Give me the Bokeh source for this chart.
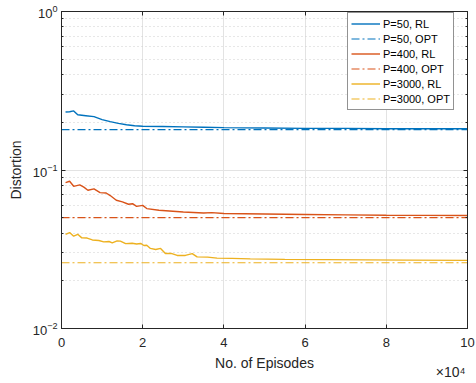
from bokeh.plotting import figure
from bokeh.models import (LinearAxis, LogAxis, FixedTicker, CustomJSTickFormatter,
                          LogTickFormatter, Title, Legend, LegendItem, Range1d)
from bokeh.embed import file_html
from bokeh.resources import INLINE

# ---------------- data ----------------
x_b = [1000, 2000, 3000, 4000, 6000, 8000, 10000, 12000, 14000, 16000, 18000, 20000,
       25000, 30000, 35000, 40000, 50000, 60000, 70000, 80000, 90000, 100000]
rl_50 = [0.232, 0.233, 0.236, 0.223, 0.220, 0.217, 0.208, 0.202, 0.197, 0.193, 0.190, 0.189,
         0.188, 0.187, 0.186, 0.185, 0.184, 0.183, 0.183, 0.182, 0.182, 0.182]

x_r = [1000, 2000, 3000, 4500, 5500, 6500, 8000, 9500, 11000, 12000, 13500, 15000, 16500,
       17500, 18500, 20000, 21000, 24000, 30000, 35000, 37000, 40000, 50000, 60000, 70000,
       80000, 90000, 100000]
rl_400 = [0.0832, 0.0849, 0.0789, 0.0805, 0.0780, 0.0745, 0.0760, 0.0720, 0.0716, 0.0690,
          0.0644, 0.0629, 0.0608, 0.0613, 0.0590, 0.0598, 0.0571, 0.0557, 0.0543, 0.0535,
          0.0538, 0.0531, 0.0528, 0.0524, 0.0521, 0.0518, 0.0517, 0.0516]

x_y = [1000, 2000, 3000, 4000, 5000, 6300, 7600, 9200, 10400, 11700, 12500, 13700, 14500,
       15800, 17400, 18500, 19500, 20300, 21000, 21900, 23200, 24400, 25600, 27000, 28500,
       30500, 32200, 33400, 36000, 38300, 42000, 46500, 55000, 65000, 75000, 85000, 100000]
rl_3000 = [0.0392, 0.0403, 0.0382, 0.0393, 0.0373, 0.0372, 0.0362, 0.0359, 0.0352, 0.0354,
           0.0347, 0.0357, 0.0356, 0.0343, 0.0345, 0.0341, 0.0344, 0.0334, 0.0335, 0.0320,
           0.0315, 0.0320, 0.0297, 0.0298, 0.0289, 0.0289, 0.0297, 0.0283, 0.0282, 0.0278,
           0.0277, 0.0275, 0.0273, 0.0272, 0.0271, 0.0270, 0.0269]

x_opt = [0, 100000]
opt_50 = [0.18, 0.18]
opt_400 = [0.05, 0.05]
opt_3000 = [0.026, 0.026]

labels = ["P=50, RL", "P=50, OPT", "P=400, RL", "P=400, OPT", "P=3000, RL", "P=3000, OPT"]
x_ticks = [0, 20000, 40000, 60000, 80000, 100000]
y_ticks = [0.01, 0.1, 1]
y_minor = [m * d for d in (0.01, 0.1) for m in range(2, 10)]

# ---------------- figure ----------------
FONT = "Liberation Sans"
AX = "#262626"
BLUE, RED, YEL = "#0072BD", "#D95319", "#EDB120"

p = figure(width=476, height=383, x_axis_type="linear", y_axis_type="log",
           x_range=Range1d(0, 100000), y_range=Range1d(0.01, 1),
           output_backend="svg", toolbar_location=None,
           min_border_left=61, min_border_right=9, min_border_top=11, min_border_bottom=55)
p.background_fill_color = "white"
p.border_fill_color = "white"
p.outline_line_color = AX
p.outline_line_width = 1

# axes
xa = p.xaxis[0]
xa.ticker = FixedTicker(ticks=x_ticks)
xa.formatter = CustomJSTickFormatter(code="return (tick/1e4).toFixed(0);")
xa.axis_label = "No. of Episodes"
ya = p.yaxis[0]
ya.ticker = FixedTicker(ticks=y_ticks, minor_ticks=y_minor)
ya.formatter = LogTickFormatter()
ya.axis_label = "Distortion"
for a in (xa, ya):
    a.axis_line_color = AX
    a.major_tick_line_color = AX
    a.minor_tick_line_color = AX
    a.major_tick_in = 4
    a.major_tick_out = 0
    a.minor_tick_in = 2
    a.minor_tick_out = 0
    a.major_label_text_font = FONT
    a.major_label_text_font_size = "13px"
    a.major_label_text_color = AX
    a.axis_label_text_font = FONT
    a.axis_label_text_font_size = "14px"
    a.axis_label_text_font_style = "normal"
    a.axis_label_text_color = AX
xa.minor_tick_line_color = None
xa.major_label_standoff = 9
xa.axis_label_standoff = 5
ya.major_label_standoff = 4
ya.axis_label_standoff = 6

top = LinearAxis(ticker=FixedTicker(ticks=x_ticks),
                 formatter=CustomJSTickFormatter(code="return '';"))
right = LogAxis(ticker=FixedTicker(ticks=y_ticks, minor_ticks=y_minor),
                formatter=CustomJSTickFormatter(code="return '';"))
for a in (top, right):
    a.axis_line_color = AX
    a.major_tick_line_color = AX
    a.minor_tick_line_color = AX
    a.major_tick_in = 4
    a.major_tick_out = 0
    a.minor_tick_in = 2
    a.minor_tick_out = 0
    a.major_label_text_font_size = "0px"
    a.major_label_standoff = 0
top.minor_tick_line_color = None
p.add_layout(top, "above")
p.add_layout(right, "right")

# grids
p.xgrid.grid_line_color = "#e3e3e3"
p.xgrid.grid_line_width = 1
p.ygrid.grid_line_color = "#e3e3e3"
p.ygrid.minor_grid_line_color = "#cfcfcf"
p.ygrid.minor_grid_line_dash = "1 3"

# lines
DD = "8 3 2 3"
r1 = p.line(x_b, rl_50, line_color=BLUE, line_width=1.4)
r2 = p.line(x_opt, opt_50, line_color=BLUE, line_width=1.2, line_dash=DD)
r3 = p.line(x_r, rl_400, line_color=RED, line_width=1.4)
r4 = p.line(x_opt, opt_400, line_color=RED, line_width=1.2, line_dash=DD)
r5 = p.line(x_y, rl_3000, line_color=YEL, line_width=1.4)
r6 = p.line(x_opt, opt_3000, line_color=YEL, line_width=1.2, line_dash=DD)

legend = Legend(items=[LegendItem(label=l, renderers=[r]) for l, r in
                       zip(labels, [r1, r2, r3, r4, r5, r6])],
                location=(286, 218))
legend.label_text_font = FONT
legend.label_text_font_size = "11px"
legend.label_text_color = "black"
legend.glyph_width = 29
legend.glyph_height = 15
legend.label_height = 15
legend.label_standoff = 3
legend.spacing = 0
legend.padding = 3
legend.margin = 0
legend.border_line_color = AX
legend.border_line_width = 1
legend.background_fill_color = "white"
legend.background_fill_alpha = 1
p.add_layout(legend, "center")

# x10^4 exponent, pulled up beside the axis label
p.add_layout(Title(text="×10⁴", align="right", text_font=FONT, text_font_size="14px",
                   text_font_style="normal", text_color=AX, standoff=-19, offset=2,
                   vertical_align="top"),
             "below")

open("out.html", "w").write(file_html(p, INLINE))
